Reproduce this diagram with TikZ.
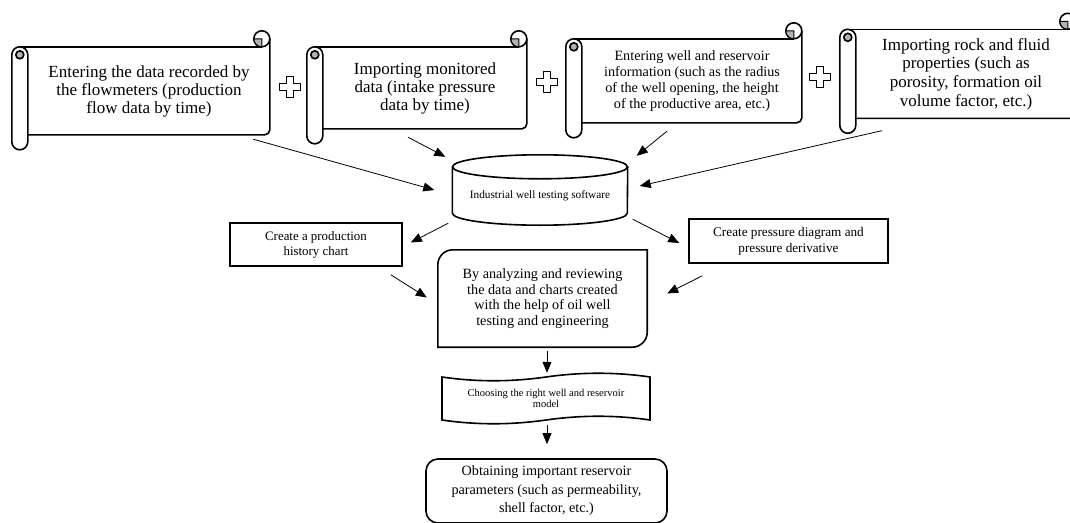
\documentclass[tikz,border=0pt]{standalone}
\usepackage{fontspec}
\setmainfont{Liberation Serif}
\usetikzlibrary{arrows.meta}

\tikzstyle{scroll}=[align=center,inner sep=0pt,font=\fontsize{17}{18}\selectfont]
\tikzstyle{box}=[draw,line width=1.6pt,align=center,inner sep=0pt]
\tikzstyle{shape line}=[line width=1.6pt]
\tikzstyle{plus}=[line width=1.6pt,line join=round]
\tikzstyle{edge}=[draw,line width=0.8pt,-{Triangle[length=11pt,width=9pt]}]

% scroll drawn round a node: name, body width, body height
\newcommand{\scrollframe}[3]{%
  \begin{scope}[shift={(#1.north west)},shape line]
    \draw[rounded corners=8pt] (-16,0) rectangle (0,#3+15);
    \draw[fill=black!30] (-8,8) circle (4pt);
    \draw (-8,0) -- (#2-8,0);
    \draw[rounded corners=5pt] (#2,-8) -- (#2,#3) -- (0,#3);
    \draw (#2-8,-8) circle (8pt);
    \draw[fill=black!30,line width=1pt] (#2-8,-8) -- (#2-8,0)
      arc[start angle=-90,end angle=-180,radius=8pt] -- cycle;
  \end{scope}}

\begin{document}
\begin{tikzpicture}[x=1pt,y=-1pt]
  \useasboundingbox (0,0) rectangle (1070,522);

  % input data on the scrolls
  \node[scroll,minimum width=242pt,minimum height=88pt] (flow) at (149,91)
    {Entering the data recorded by\\the flowmeters (production\\flow data by time)};
  \node[scroll,minimum width=204pt,minimum height=82pt] (monitor) at (425,88)
    {Importing monitored\\data (intake pressure\\data by time)};
  \node[scroll,minimum width=220pt,minimum height=84pt,
        font=\fontsize{14.2}{16}\selectfont] (wellinfo) at (692,81)
    {Entering well and reservoir\\information (such as the radius\\of the well opening, the height\\of the productive area, etc.)};
  \node[scroll,minimum width=220pt,minimum height=89pt,
        font=\fontsize{17}{18.7}\selectfont] (rockfluid) at (966,74)
    {Importing rock and fluid\\properties (such as\\porosity, formation oil\\volume factor, etc.)};

  \foreach \name/\w/\h in {flow/242/88, monitor/204/82, wellinfo/220/84, rockfluid/220/89}
    \scrollframe{\name}{\w}{\h};

  % plus signs between the scrolls
  \foreach \pos in {(290,87),(547,82),(820,77)}
    \draw[plus,shift={\pos}] (-3.5,-10.5) -- (3.5,-10.5) -- (3.5,-3.5) -- (10.5,-3.5)
      -- (10.5,3.5) -- (3.5,3.5) -- (3.5,10.5) -- (-3.5,10.5) -- (-3.5,3.5)
      -- (-10.5,3.5) -- (-10.5,-3.5) -- (-3.5,-3.5) -- cycle;

  % the software
  \node[align=center,inner sep=0pt,minimum width=175pt,minimum height=58pt,
        font=\fontsize{11.3}{13}\selectfont] (soft) at (540,196)
    {Industrial well testing software};
  \draw[shape line] (soft.north) ellipse [x radius=87.5pt,y radius=12pt];
  \draw[shape line] (soft.north west) -- ([yshift=12pt]soft.south west)
    arc[start angle=180,end angle=360,x radius=87.5pt,y radius=12pt] -- (soft.north east);

  % charts
  \node[box,minimum width=172pt,minimum height=43pt,
        font=\fontsize{12.9}{15}\selectfont] (history) at (316,244.5)
    {Create a production\\history chart};
  \node[box,minimum width=199pt,minimum height=44pt,
        font=\fontsize{13.2}{16}\selectfont] (pressure) at (788.5,241)
    {Create pressure diagram and\\pressure derivative};

  % analysis
  \node[align=center,inner sep=0pt,minimum width=209pt,minimum height=97pt,
        font=\fontsize{14.2}{15.5}\selectfont] (analysis) at (542.5,298.5)
    {By analyzing and reviewing\\the data and charts created\\with the help of oil well\\testing and engineering};
  \draw[shape line] (analysis.west) [rounded corners=15pt] -- (analysis.north west)
    -- (analysis.north) [sharp corners] -- (analysis.north east) -- (analysis.east)
    [rounded corners=15pt] -- (analysis.south east) -- (analysis.south)
    [sharp corners] -- (analysis.south west) -- cycle;

  % model
  \node[align=center,inner sep=0pt,minimum width=208pt,minimum height=43pt,
        font=\fontsize{10.5}{11.5}\selectfont] (model) at (546,398.5)
    {Choosing the right well and reservoir\\model};
  \draw[shape line,shift={(model.center)}] (-104,-21.5)
    .. controls (-70,-16.5) and (-35,-16.5) .. (0,-21.5)
    .. controls (35,-26.5) and (70,-26.5) .. (104,-21.5) -- (104,21.5)
    .. controls (70,16.5) and (35,16.5) .. (0,21.5)
    .. controls (-35,26.5) and (-70,26.5) .. (-104,21.5) -- cycle;

  % results
  \node[box,rounded corners=12pt,minimum width=241pt,minimum height=64pt,
        font=\fontsize{14.2}{18.5}\selectfont] (params) at (546.5,491)
    {Obtaining important reservoir\\parameters (such as permeability,\\shell factor, etc.)};

  % connections
  \path[edge] ([xshift=-17pt,yshift=-4pt]flow.south east) -- ([xshift=-18pt,yshift=6pt]soft.west);
  \path[edge] ([xshift=-17pt,yshift=-8pt]monitor.south) -- ([xshift=-7pt,yshift=10pt]soft.north west);
  \path[edge] ([xshift=-25pt,yshift=-8pt]wellinfo.south) -- ([xshift=9pt,yshift=11pt]soft.north east);
  \path[edge] ([xshift=26pt,yshift=-12pt]rockfluid.south west) -- ([xshift=12pt,yshift=10pt]soft.east);
  \path[edge] ([xshift=-4pt,yshift=2pt]soft.south west) -- ([xshift=8pt,yshift=2pt]history.east);
  \path[edge] ([xshift=5pt,yshift=6pt]soft.south east) -- ([xshift=-9pt,yshift=-2pt]pressure.west);
  \path[edge] ([xshift=-12pt,yshift=-8pt]history.south east) -- ([xshift=-11pt,yshift=1pt]analysis.west);
  \path[edge] ([xshift=14pt,yshift=-12pt]pressure.south west) -- ([xshift=20pt,yshift=5pt]analysis.east);
  \path[edge] ([xshift=4.5pt,yshift=-4pt]analysis.south) -- ([xshift=1pt,yshift=4pt]model.north);
  \path[edge] ([xshift=1pt,yshift=-5pt]model.south) -- ([xshift=0.5pt,yshift=14pt]params.north);
\end{tikzpicture}
\end{document}
